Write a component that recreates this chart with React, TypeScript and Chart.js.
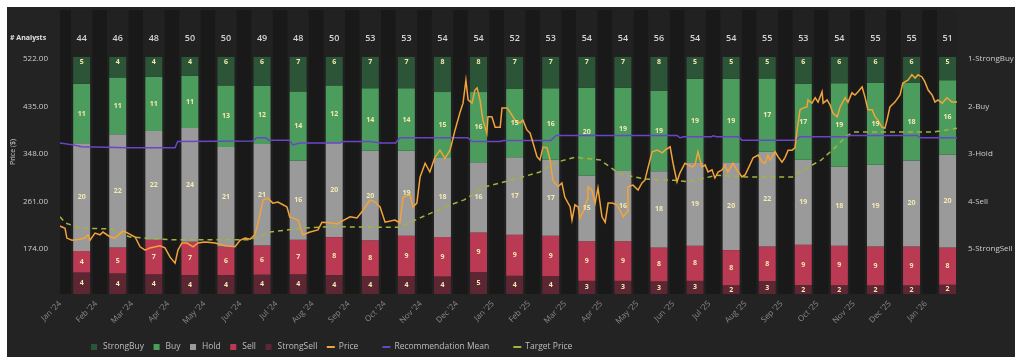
import React, { useEffect, useRef } from "react";
import { Chart, registerables } from "chart.js";

Chart.register(...registerables);

// ---------- data ----------
const months = ["Jan '24", "Feb '24", "Mar '24", "Apr '24", "May '24", "Jun '24", "Jul '24", "Aug '24", "Sep '24", "Oct '24", "Nov '24", "Dec '24", "Jan '25", "Feb '25", "Mar '25", "Apr '25", "May '25", "Jun '25", "Jul '25", "Aug '25", "Sep '25", "Oct '25", "Nov '25", "Dec '25", "Jan '26"];
const analysts = [44, 46, 48, 50, 50, 49, 48, 50, 53, 53, 54, 54, 52, 53, 54, 54, 56, 54, 54, 55, 53, 54, 55, 55, 51];
const strongBuy = [5, 4, 4, 4, 6, 6, 7, 6, 7, 7, 8, 8, 7, 7, 7, 7, 8, 5, 5, 5, 6, 6, 6, 6, 5];
const buy = [11, 11, 11, 11, 13, 12, 14, 12, 14, 14, 15, 16, 15, 16, 20, 19, 19, 19, 19, 17, 17, 19, 19, 18, 16];
const hold = [20, 22, 22, 24, 21, 21, 16, 20, 20, 19, 18, 16, 17, 17, 15, 16, 18, 19, 20, 22, 19, 18, 19, 20, 20];
const sell = [4, 5, 7, 7, 6, 6, 7, 8, 8, 9, 9, 9, 9, 9, 9, 9, 8, 8, 8, 8, 9, 9, 9, 9, 8];
const strongSell = [4, 4, 4, 4, 4, 4, 4, 4, 4, 4, 4, 5, 4, 4, 3, 3, 3, 3, 2, 3, 2, 2, 2, 2, 2];

const priceTicks = [174, 261, 348, 435, 522];
const recTicks = [1, 2, 3, 4, 5];
const recTickLabels = ["1-StrongBuy", "2-Buy", "3-Hold", "4-Sell", "5-StrongSell"];

// price: position in months since Jan 1 2024, value in $
const pricePos = [0.00, 0.14, 0.19, 0.33, 0.55, 0.69, 0.78, 0.83, 0.97, 1.11, 1.19, 1.39, 1.52, 1.75, 1.88, 2.08, 2.22, 2.36, 2.49, 2.77, 2.91, 3.05, 3.19, 3.27, 3.38, 3.52, 3.69, 3.82, 4.02, 4.30, 4.57, 4.85, 4.99, 5.13, 5.27, 5.40, 5.49, 5.63, 5.76, 5.90, 6.04, 6.18, 6.29, 6.37, 6.46, 6.60, 6.73, 6.93, 7.15, 7.26, 7.48, 7.68, 7.84, 8.04, 8.23, 8.40, 8.59, 8.73, 8.87, 9.01, 9.28, 9.42, 9.51, 9.70, 9.78, 9.89, 9.98, 10.12, 10.25, 10.39, 10.53, 10.67, 10.81, 10.95, 11.09, 11.17, 11.25, 11.31, 11.42, 11.50, 11.56, 11.64, 11.72, 11.83, 11.86, 11.97, 12.06, 12.20, 12.25, 12.39, 12.47, 12.61, 12.75, 12.83, 12.94, 13.03, 13.11, 13.22, 13.30, 13.39, 13.50, 13.58, 13.66, 13.80, 13.91, 13.99, 14.14, 14.19, 14.27, 14.36, 14.41, 14.50, 14.61, 14.63, 14.74, 14.83, 14.91, 15.02, 15.11, 15.19, 15.30, 15.44, 15.52, 15.61, 15.72, 15.74, 15.88, 16.02, 16.13, 16.21, 16.30, 16.41, 16.55, 16.69, 16.77, 16.91, 16.99, 17.10, 17.18, 17.32, 17.41, 17.52, 17.60, 17.68, 17.79, 17.88, 17.96, 18.07, 18.15, 18.24, 18.35, 18.43, 18.51, 18.65, 18.76, 18.90, 18.99, 19.12, 19.21, 19.35, 19.46, 19.54, 19.62, 19.68, 19.82, 19.90, 20.01, 20.09, 20.18, 20.29, 20.37, 20.43, 20.51, 20.59, 20.70, 20.73, 20.84, 20.93, 21.01, 21.12, 21.15, 21.26, 21.34, 21.42, 21.54, 21.62, 21.76, 21.84, 21.95, 22.03, 22.12, 22.23, 22.31, 22.39, 22.51, 22.59, 22.67, 22.78, 22.86, 22.92, 23.00, 23.14, 23.28, 23.36, 23.50, 23.61, 23.70, 23.78, 23.89, 23.97, 24.06, 24.17, 24.25, 24.33, 24.45, 24.58, 24.72, 24.86];
const priceVal = [216, 212, 194, 190, 192, 194, 200, 190, 203, 200, 205, 196, 194, 207, 203, 196, 178, 172, 176, 180, 176, 159, 148, 172, 185, 185, 178, 185, 187, 185, 180, 178, 190, 194, 192, 200, 222, 264, 267, 258, 260, 255, 251, 232, 231, 227, 200, 205, 209, 223, 222, 220, 226, 233, 231, 245, 264, 260, 251, 223, 227, 222, 269, 273, 251, 258, 306, 331, 315, 342, 355, 340, 355, 392, 425, 441, 483, 447, 441, 465, 469, 447, 410, 386, 416, 416, 397, 397, 432, 432, 425, 410, 405, 410, 392, 386, 368, 343, 337, 361, 359, 337, 300, 288, 295, 269, 251, 227, 255, 251, 231, 242, 264, 288, 282, 258, 286, 233, 223, 258, 258, 255, 245, 233, 242, 288, 291, 282, 295, 300, 324, 352, 355, 350, 355, 361, 331, 297, 313, 331, 328, 324, 328, 352, 324, 328, 315, 319, 304, 315, 319, 328, 315, 331, 319, 306, 310, 328, 341, 346, 333, 331, 346, 337, 352, 343, 333, 341, 355, 355, 359, 392, 429, 432, 434, 447, 441, 451, 443, 462, 441, 447, 438, 423, 416, 434, 451, 443, 460, 456, 462, 471, 452, 429, 429, 416, 410, 397, 395, 410, 434, 443, 456, 478, 483, 493, 487, 493, 489, 480, 465, 456, 443, 447, 441, 451, 443, 443];

const targetPos = [0, 0.14, 0.55, 1.39, 1.94, 3.05, 5.27, 5.82, 6.65, 7.5, 8.5, 9.42, 9.98, 10.67, 11.2, 11.78, 12.61, 13.3, 13.77, 14.27, 14.97, 15.5, 16.2, 17.0, 17.4, 18.2, 19.0, 20.3, 20.5, 21.1, 21.5, 21.8, 22.0, 24.2, 24.86];
const targetVal = [233, 222, 212, 211, 196, 191, 191, 205, 212, 215, 214, 214, 231, 251, 264, 288, 302, 315, 333, 342, 337, 312, 302, 300, 297, 309, 306, 306, 315, 337, 361, 381, 388, 388, 395];

const recPos = [0, 0.36, 0.6, 1.94, 3.19, 3.26, 5.35, 5.45, 5.7, 5.78, 6.35, 6.45, 6.65, 7.76, 7.85, 8.6, 8.87, 9.3, 9.42, 11.3, 11.42, 12.2, 12.3, 13.6, 13.75, 17.1, 17.18, 17.3, 18.05, 18.1, 18.2, 18.8, 18.9, 20.4, 20.5, 21.8, 21.9, 23.75, 23.85, 24.86];
const recVal = [2.77, 2.81, 2.85, 2.87, 2.87, 2.74, 2.73, 2.66, 2.66, 2.71, 2.71, 2.81, 2.77, 2.77, 2.74, 2.74, 2.77, 2.77, 2.66, 2.66, 2.74, 2.74, 2.72, 2.72, 2.61, 2.61, 2.66, 2.64, 2.64, 2.62, 2.64, 2.64, 2.71, 2.71, 2.64, 2.64, 2.61, 2.61, 2.66, 2.66];

// ---------- styling ----------
const FONT = "'Open Sans', 'Noto Sans', sans-serif";
const COLORS = {
  panel: "#232323",
  plot: "#191919",
  band: "#212121",
  strongBuy: "#2c5538",
  buy: "#4b9c5d",
  hold: "#9a9a9a",
  sell: "#b93a52",
  strongSell: "#5c2632",
  price: "#f2a33a",
  rec: "#6b45c9",
  target: "#a3b43c",
  label: "#f3eab0",
};
const BAR_OFFSET = 0.6;
const X_MAX = 24.86;

export default function App() {
  const ref = useRef<HTMLCanvasElement>(null);

  useEffect(() => {
    const canvas = ref.current;
    if (!canvas) return;

    const stack = [
      { label: "StrongSell", values: strongSell, color: COLORS.strongSell },
      { label: "Sell", values: sell, color: COLORS.sell },
      { label: "Hold", values: hold, color: COLORS.hold },
      { label: "Buy", values: buy, color: COLORS.buy },
      { label: "StrongBuy", values: strongBuy, color: COLORS.strongBuy },
    ];
    const totals = months.map((_, i) => stack.reduce((s, seg) => s + seg.values[i], 0));
    const ranges: Record<string, any[]> = {};
    months.forEach((_, i) => {
      let base = 0;
      stack.forEach((seg) => {
        const v = seg.values[i];
        const lo = (base / totals[i]) * 100;
        const hi = ((base + v) / totals[i]) * 100;
        base += v;
        (ranges[seg.label] = ranges[seg.label] || []).push({ x: i + BAR_OFFSET, y: [lo, hi] });
      });
    });

    const legendOrder = ["StrongBuy", "Buy", "Hold", "Sell", "StrongSell"];
    const barDatasets = legendOrder.map((name) => {
      const seg = stack.find((s) => s.label === name)!;
      return {
        label: name,
        data: ranges[name],
        counts: seg.values,
        backgroundColor: seg.color,
        borderWidth: 0,
        grouped: false,
        barPercentage: 0.47,
        categoryPercentage: 1,
        xAxisID: "x",
        yAxisID: "yb",
        order: 2,
        isBar: true,
      } as any;
    });

    const lineDatasets = [
      {
        type: "line",
        label: "Price",
        data: pricePos.map((p, k) => ({ x: p, y: priceVal[k] })),
        borderColor: COLORS.price,
        backgroundColor: COLORS.price,
        borderWidth: 1.5,
        pointRadius: 0,
        tension: 0,
        xAxisID: "x",
        yAxisID: "y",
        order: 0,
      },
      {
        type: "line",
        label: "Recommendation Mean",
        data: recPos.map((p, k) => ({ x: p, y: recVal[k] })),
        borderColor: COLORS.rec,
        backgroundColor: COLORS.rec,
        borderWidth: 1.5,
        pointRadius: 0,
        tension: 0,
        xAxisID: "x",
        yAxisID: "yr",
        order: 1,
      },
      {
        type: "line",
        label: "Target Price",
        data: targetPos.map((p, k) => ({ x: p, y: targetVal[k] })),
        borderColor: COLORS.target,
        backgroundColor: COLORS.target,
        borderWidth: 1.5,
        borderDash: [5, 4],
        pointRadius: 0,
        tension: 0,
        xAxisID: "x",
        yAxisID: "y",
        order: 1,
      },
    ] as any[];

    const background = {
      id: "background",
      beforeDraw(chart: any) {
        const { ctx, chartArea: a, scales } = chart;
        ctx.save();
        ctx.fillStyle = COLORS.panel;
        ctx.fillRect(0, 0, chart.width, chart.height);
        ctx.fillStyle = COLORS.plot;
        ctx.fillRect(a.left, a.top, a.right - a.left, a.bottom - a.top);
        ctx.fillStyle = COLORS.band;
        months.forEach((_, i) => {
          const l = Math.max(a.left, scales.x.getPixelForValue(i + BAR_OFFSET - 0.3));
          const r = Math.min(a.right, scales.x.getPixelForValue(i + BAR_OFFSET + 0.3));
          ctx.fillRect(l, a.top, r - l, a.bottom - a.top);
        });
        ctx.restore();
      },
    };

    const overlay = {
      id: "overlay",
      afterDatasetsDraw(chart: any) {
        const { ctx, scales } = chart;
        const xs = scales.x;
        const yb = scales.yb;
        ctx.save();
        // counts inside bars
        ctx.font = `bold 7px ${FONT}`;
        ctx.textAlign = "center";
        ctx.textBaseline = "middle";
        ctx.fillStyle = COLORS.label;
        chart.data.datasets.forEach((ds: any) => {
          if (!ds.isBar) return;
          ds.data.forEach((pt: any, i: number) => {
            const x = xs.getPixelForValue(pt.x);
            const top = yb.getPixelForValue(pt.y[1]);
            const bot = yb.getPixelForValue(pt.y[0]);
            const y = ds.label === "StrongBuy" ? top + 5 : (top + bot) / 2;
            ctx.fillText(String(ds.counts[i]), x, y);
          });
        });
        // analysts row
        ctx.font = `600 9px ${FONT}`;
        ctx.fillStyle = "#d4d4d4";
        analysts.forEach((n, i) => {
          ctx.fillText(String(n), xs.getPixelForValue(i + BAR_OFFSET), 31);
        });
        ctx.font = `bold 7px ${FONT}`;
        ctx.textAlign = "left";
        ctx.fillStyle = "#e2e2e2";
        ctx.fillText("# Analysts", 3, 31);

        // legend
        ctx.font = `8.5px ${FONT}`;
        ctx.textBaseline = "middle";
        let x = 84;
        const y = 340;
        chart.data.datasets.forEach((ds: any) => {
          const isLine = ds.type === "line";
          ctx.fillStyle = ds.isBar ? ds.backgroundColor : ds.borderColor;
          if (isLine) {
            ctx.fillRect(x, y - 1, 8, 2);
            x += 12;
          } else {
            ctx.fillRect(x, y - 3, 6, 6);
            x += 12;
          }
          ctx.fillStyle = "#bdbdbd";
          ctx.fillText(ds.label, x, y);
          x += ctx.measureText(ds.label).width + (isLine ? 24 : 9.5);
        });
        ctx.restore();
      },
    };

    const chart = new Chart(canvas, {
      type: "bar",
      data: { datasets: [...barDatasets, ...lineDatasets] },
      options: {
        animation: false,
        responsive: false,
        layout: { padding: { top: 3, left: 0, right: 0, bottom: 0 } },
        plugins: { legend: { display: false }, tooltip: { enabled: false } },
        font: { family: FONT },
        scales: {
          x: {
            type: "linear",
            min: 0,
            max: X_MAX,
            offset: false,
            grid: { display: false, offset: false, drawTicks: false },
            border: { display: false },
            afterBuildTicks: (scale: any) => {
              scale.ticks = months.map((_, i) => ({ value: i }));
            },
            afterFit: (scale: any) => {
              scale.height = 63;
              scale.paddingLeft = 0;
              scale.paddingRight = 0;
            },
            ticks: {
              autoSkip: false,
              minRotation: 45,
              maxRotation: 45,
              padding: 5,
              color: "#8a8a8a",
              font: { family: FONT, size: 8 },
              callback: (v: any) => months[Math.round(Number(v))] ?? "",
            },
          },
          y: {
            type: "linear",
            position: "left",
            min: 91.6,
            max: 611.6,
            grid: { display: false, drawTicks: false },
            border: { display: false },
            title: {
              display: true,
              text: "Price ($)",
              color: "#cfcfcf",
              font: { family: FONT, size: 7 },
              padding: { top: 2, bottom: 0 },
            },
            afterBuildTicks: (scale: any) => {
              scale.ticks = priceTicks.map((v) => ({ value: v }));
            },
            afterFit: (scale: any) => {
              scale.width = 53;
              scale.paddingTop = 0;
              scale.paddingBottom = 0;
            },
            ticks: {
              padding: 12,
              color: "#cccccc",
              font: { family: FONT, size: 8 },
              callback: (v: any) => Number(v).toFixed(2),
            },
          },
          yr: {
            type: "linear",
            position: "right",
            reverse: true,
            min: -0.03,
            max: 5.95,
            grid: { display: false, drawTicks: false },
            border: { display: false },
            afterBuildTicks: (scale: any) => {
              scale.ticks = recTicks.map((v) => ({ value: v }));
            },
            afterFit: (scale: any) => {
              scale.width = 58;
              scale.paddingTop = 0;
              scale.paddingBottom = 0;
            },
            ticks: {
              padding: 11,
              color: "#cccccc",
              font: { family: FONT, size: 8 },
              callback: (v: any) => recTickLabels[Math.round(Number(v)) - 1] ?? "",
            },
          },
          yb: {
            type: "linear",
            display: false,
            min: 0,
            max: 119.8,
          },
        },
      } as any,
      plugins: [background, overlay],
    });

    return () => chart.destroy();
  }, []);

  return (
    <div style={{ position: "fixed", left: 7, top: 7, width: 1008, height: 350, background: COLORS.panel }}>
      <canvas ref={ref} width={1008} height={350} style={{ display: "block" }} />
    </div>
  );
}
